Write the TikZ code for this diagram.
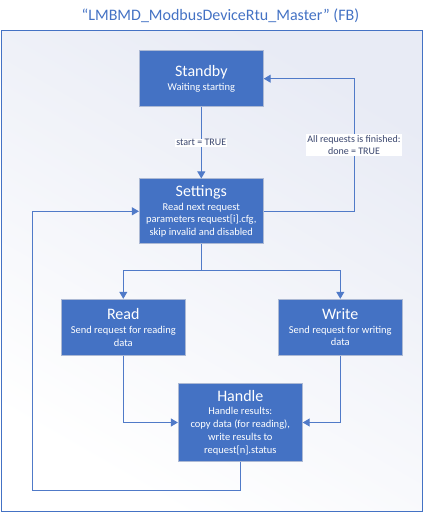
\documentclass[tikz,border=0pt]{standalone}
\usepackage{fontspec}
\setmainfont{Carlito}
\usetikzlibrary{arrows.meta}
\definecolor{boxblue}{RGB}{68,114,196}
\definecolor{boxedge}{RGB}{172,185,212}
\definecolor{linkblue}{RGB}{80,122,200}
\definecolor{labelgray}{RGB}{58,70,110}
\definecolor{paneltop}{RGB}{232,235,245}
\tikzset{>={Triangle[width=8pt,length=7pt]}}
\tikzset{
  state/.style={draw=boxedge, line width=0.8pt, fill=boxblue, text=white,
    align=center, minimum width=124pt, inner sep=2pt,
    font=\fontsize{10.5}{12.8}\selectfont},
  link/.style={draw=linkblue, line width=1pt},
  cond/.style={fill=white, text=labelgray, align=center, inner sep=1pt,
    font=\fontsize{10}{12}\selectfont},
}

\begin{document}
\begin{tikzpicture}[x=1pt,y=-1pt]
  \newcommand\Head[1]{{\fontsize{16}{19}\selectfont #1}\\[1pt]}

  \useasboundingbox (0,0) rectangle (424,514);

  %% frame and title
  \shade[top color=paneltop, bottom color=white, shading angle=-30]
    (1.5,30.5) rectangle (422,511.5);
  \draw[boxblue, line width=1pt] (1.5,30.5) rectangle (422,511.5);
  \node[text=boxblue, font=\fontsize{16}{19}\selectfont] (title) at (220.5,16)
    {``LMBMD\_ModbusDeviceRtu\_Master'' (FB)};

  %% states
  \node[state, minimum height=56pt] (standby) at (201.3,78.7)
    {\Head{Standby}Waiting starting};
  \node[state, minimum height=65pt] (settings) at (201.3,211.3)
    {\Head{Settings}Read next request\\parameters request[i].cfg,\\skip invalid and disabled};
  \node[state, minimum height=56pt] (read) at (123.3,327.2)
    {\Head{Read}Send request for reading\\data};
  \node[state, minimum height=56pt] (write) at (340.3,327.2)
    {\Head{Write}Send request for writing\\data};
  \node[state, minimum height=78pt] (handle) at (240.3,422.5)
    {\Head{Handle}Handle results:\\copy data (for reading),\\write results to\\request[n].status};

  \coordinate (split) at (201.3,270);
  \coordinate (donelow) at (354,211.3);
  \coordinate (donehigh) at (354,78.7);
  \coordinate (loopcorner) at (32.7,490);

  \draw[link,->] (standby) -- node[cond]{start = TRUE} (settings);
  \draw[link,->] (settings.east) -- (donelow)
    -- node[cond]{All requests is finished:\\done = TRUE} (donehigh) -- (standby.east);

  \draw[link] (settings.south) -- (split);
  \draw[link,->] (split) -| (read.north);
  \draw[link,->] (split) -| (write.north);

  \draw[link,->] (read.south) |- (handle.west);
  \draw[link,->] (write.south) |- (handle.east);

  %% back to settings
  \draw[link,->] (handle.south) |- (loopcorner) |- (settings.west);

\end{tikzpicture}
\end{document}
